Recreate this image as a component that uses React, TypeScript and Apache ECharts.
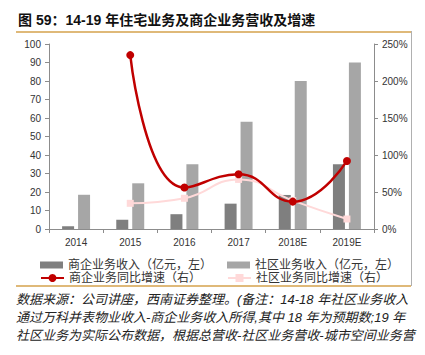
import React, { useEffect, useRef } from "react";
import * as echarts from "echarts";

const categories = ["2014", "2015", "2016", "2017", "2018E", "2019E"];
const bizRevenue = [1.5, 5, 8, 13.7, 18.4, 35];
const communityRevenue = [18.5, 24.7, 35, 58, 80, 90];
const bizGrowth: (number | string)[] = ["-", 235, 56, 74, 37, 92];
const communityGrowth: (number | string)[] = ["-", 34.7, 41.5, 67, 38.3, 13.5];
const leftTicks = { min: 0, max: 100, interval: 10 };
const rightTicks = { min: 0, max: 250, interval: 50 };

const seriesNames = [
  "商企业务收入（亿元，左）",
  "社区业务收入（亿元，左）",
  "商企业务同比增速（右）",
  "社区业务同比增速（右）",
];

const titleText = "图 59：14-19 年住宅业务及商企业务营收及增速";
const footerLines = [
  "数据来源：公司讲座，西南证券整理。(备注：14-18 年社区业务收入",
  "通过万科并表物业收入-商企业务收入所得,其中 18 年为预期数;19 年",
  "社区业务为实际公布数据，根据总营收-社区业务营收-城市空间业务营",
];

const FONT = "Liberation Sans, Arial, Noto Sans CJK SC, sans-serif";
const CJK = "Liberation Sans, Noto Sans CJK SC, sans-serif";

export default function App() {
  const ref = useRef<HTMLDivElement>(null);
  useEffect(() => {
    if (!ref.current) return;
    const chart = echarts.init(ref.current, undefined, { renderer: "svg" });
    const axisLine = { show: true, lineStyle: { color: "#8c8c8c", width: 1 } };
    const legendCommon = {
      orient: "horizontal" as const,
      itemGap: 4,
      textStyle: { fontSize: 12, color: "#333", fontFamily: CJK },
    };
    chart.setOption({
      animation: false,
      textStyle: { fontFamily: FONT },
      title: {
        text: titleText,
        left: 13,
        top: 8,
        textStyle: { fontSize: 14, fontWeight: "bold", color: "#111", fontFamily: CJK },
      },
      grid: { left: 49, right: 51, top: 44, bottom: 126 },
      legend: [
        { ...legendCommon, left: 35, top: 254, data: [seriesNames[0]], itemWidth: 23, itemHeight: 7, icon: "rect" },
        { ...legendCommon, left: 222, top: 254, data: [seriesNames[1]], itemWidth: 23, itemHeight: 7, icon: "rect" },
        { ...legendCommon, left: 35, top: 267, data: [seriesNames[2]], itemWidth: 23, itemHeight: 10 },
        { ...legendCommon, left: 222, top: 267, data: [seriesNames[3]], itemWidth: 23, itemHeight: 10 },
      ],
      xAxis: {
        type: "category",
        data: categories,
        axisLine,
        axisTick: { show: true, length: 4, lineStyle: { color: "#8c8c8c" } },
        axisLabel: { fontSize: 10, color: "#333", margin: 8 },
      },
      yAxis: [
        {
          type: "value",
          ...leftTicks,
          axisLine,
          axisTick: { show: true, length: 4, lineStyle: { color: "#8c8c8c" } },
          axisLabel: { fontSize: 10, color: "#333", margin: 8 },
          splitLine: { show: false },
        },
        {
          type: "value",
          ...rightTicks,
          position: "right",
          axisLine,
          axisTick: { show: true, length: 4, lineStyle: { color: "#8c8c8c" } },
          axisLabel: { fontSize: 10, color: "#333", margin: 8, formatter: "{value}%" },
          splitLine: { show: false },
        },
      ],
      series: [
        {
          name: seriesNames[0],
          type: "bar",
          data: bizRevenue,
          barWidth: 12,
          barGap: "33%",
          itemStyle: { color: "#7f7f7f" },
        },
        {
          name: seriesNames[1],
          type: "bar",
          data: communityRevenue,
          barWidth: 12,
          barGap: "33%",
          itemStyle: { color: "#a6a6a6" },
        },
        {
          name: seriesNames[3],
          type: "line",
          yAxisIndex: 1,
          data: communityGrowth,
          smooth: true,
          symbol: "rect",
          symbolSize: 7,
          lineStyle: { color: "#ffd9d9", width: 2 },
          itemStyle: { color: "#ffd9d9" },
          z: 3,
        },
        {
          name: seriesNames[2],
          type: "line",
          yAxisIndex: 1,
          data: bizGrowth,
          smooth: true,
          symbol: "circle",
          symbolSize: 8,
          lineStyle: { color: "#c00000", width: 2.5 },
          itemStyle: { color: "#c00000" },
          z: 4,
        },
      ],
      graphic: [
        { type: "line", shape: { x1: 16, y1: 32, x2: 411, y2: 32 }, style: { stroke: "#d4a24c", lineWidth: 1.5 } },
        { type: "line", shape: { x1: 16, y1: 286, x2: 411, y2: 286 }, style: { stroke: "#d4a24c", lineWidth: 1.5 } },
        { type: "line", shape: { x1: 411.5, y1: 31, x2: 411.5, y2: 286 }, style: { stroke: "#b0b0b0", lineWidth: 1 } },
        ...footerLines.map((t, i) => ({
          type: "text",
          left: 16,
          top: 293 + i * 18,
          style: {
            text: t,
            fontSize: 13,
            fontStyle: "italic",
            fill: "#222",
            fontFamily: CJK,
          },
        })),
      ],
    });
    return () => chart.dispose();
  }, []);
  return (
    <div
      ref={ref}
      style={{ position: "absolute", left: 0, top: 0, width: 425, height: 355, background: "#fff" }}
    />
  );
}
